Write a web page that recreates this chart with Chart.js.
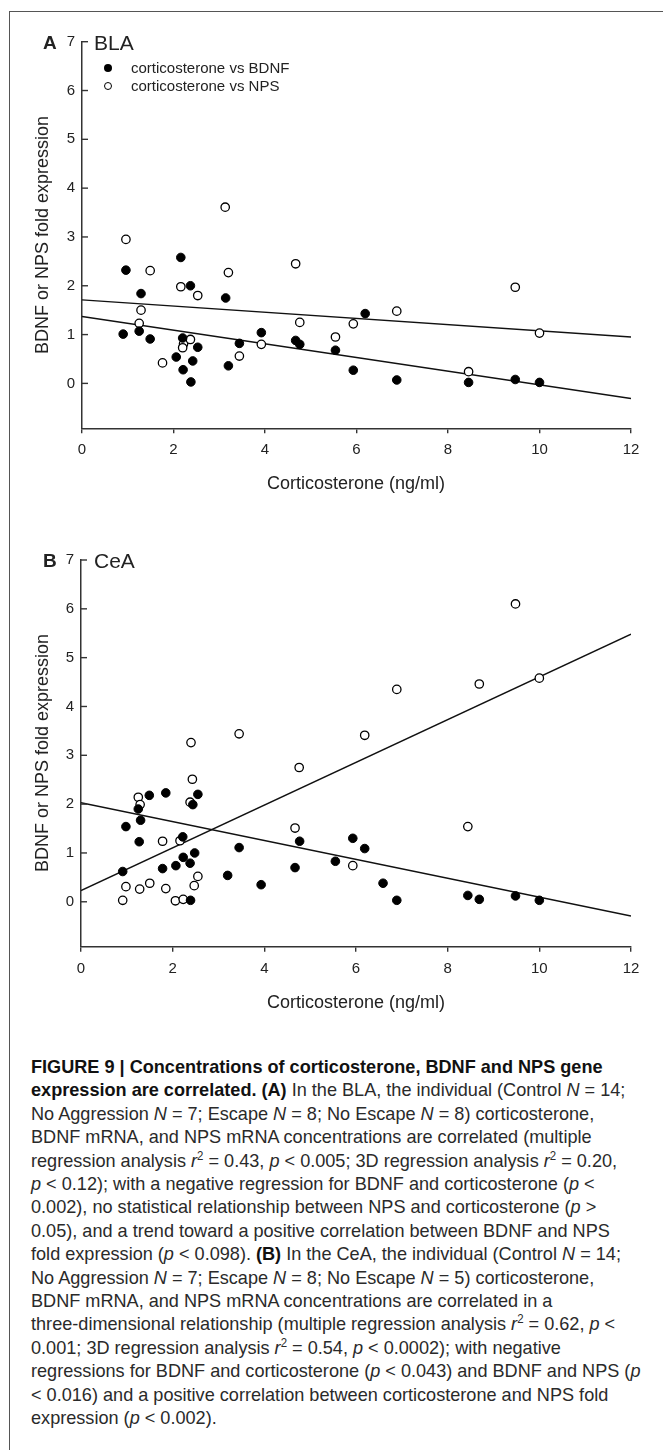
<!DOCTYPE html>
<html>
<head>
<meta charset="utf-8">
<script src="https://cdn.jsdelivr.net/npm/chart.js@4.4.1/dist/chart.umd.min.js"></script>
<style>
  html, body { margin: 0; padding: 0; background: #fff; }
  body { width: 663px; height: 1450px; position: relative; overflow: hidden; font-family: "Liberation Sans", Arial, sans-serif; color: #222; }
  .frame { position: absolute; left: 9px; top: 11px; width: 700px; height: 1500px; border-left: 1.5px solid #555; border-top: 1.5px solid #555; }
  canvas { position: absolute; left: 0; }
  .abs { position: absolute; white-space: nowrap; line-height: 1; }
  .panel { font-weight: bold; font-size: 19px; }
  .region { font-size: 21px; }
  .ytitle { font-size: 18px; transform: translate(-50%, -50%) rotate(-90deg); }
  .xtitle { font-size: 18px; transform: translate(-50%, -50%); }
  .legend { font-size: 15px; }
  .dot { display: inline-block; width: 8px; height: 8px; border-radius: 50%; box-sizing: border-box; margin-right: 19px; vertical-align: middle; position: relative; top: -1px; }
  .dot.fill { background: #000; }
  .dot.open { background: #fff; border: 1.3px solid #000; }
  .caption { position: absolute; left: 31px; top: 1055px; font-family: "Liberation Sans", Arial, sans-serif; font-size: 19px; line-height: 23.4px; color: #2a2a2a; white-space: nowrap; transform-origin: 0 0; }
  .caption b { font-weight: bold; color: #111; }
  .caption sup { font-size: 12px; line-height: 0; vertical-align: 7px; }
</style>
</head>
<body>
<div class="frame"></div>

<canvas id="chartA" width="663" height="520" style="top:0"></canvas>
<canvas id="chartB" width="663" height="520" style="top:520px"></canvas>

<div class="abs panel" style="left:43px; top:33px;">A</div>
<div class="abs region" style="left:94px; top:32px;">BLA</div>
<div class="abs legend" style="left:104px; top:60px;"><span class="dot fill"></span>corticosterone vs BDNF</div>
<div class="abs legend" style="left:104px; top:78px;"><span class="dot open"></span>corticosterone vs NPS</div>
<div class="abs ytitle" style="left:42px; top:235px;">BDNF or NPS fold expression</div>
<div class="abs xtitle" style="left:356px; top:483px;">Corticosterone (ng/ml)</div>

<div class="abs panel" style="left:43px; top:551px;">B</div>
<div class="abs region" style="left:94px; top:550px;">CeA</div>
<div class="abs ytitle" style="left:42px; top:753px;">BDNF or NPS fold expression</div>
<div class="abs xtitle" style="left:356px; top:1002px;">Corticosterone (ng/ml)</div>

<div class="caption" id="caption">
<b>FIGURE 9 | Concentrations of corticosterone, BDNF and NPS gene</b><br>
<b>expression are correlated. (A)</b> In the BLA, the individual (Control <i>N</i> = 14;<br>
No Aggression <i>N</i> = 7; Escape <i>N</i> = 8; No Escape <i>N</i> = 8) corticosterone,<br>
BDNF mRNA, and NPS mRNA concentrations are correlated (multiple<br>
regression analysis <i>r</i><sup>2</sup> = 0.43, <i>p</i> &lt; 0.005; 3D regression analysis <i>r</i><sup>2</sup> = 0.20,<br>
<i>p</i> &lt; 0.12); with a negative regression for BDNF and corticosterone (<i>p</i> &lt;<br>
0.002), no statistical relationship between NPS and corticosterone (<i>p</i> &gt;<br>
0.05), and a trend toward a positive correlation between BDNF and NPS<br>
fold expression (<i>p</i> &lt; 0.098). <b>(B)</b> In the CeA, the individual (Control <i>N</i> = 14;<br>
No Aggression <i>N</i> = 7; Escape <i>N</i> = 8; No Escape <i>N</i> = 5) corticosterone,<br>
BDNF mRNA, and NPS mRNA concentrations are correlated in a<br>
three-dimensional relationship (multiple regression analysis <i>r</i><sup>2</sup> = 0.62, <i>p</i> &lt;<br>
0.001; 3D regression analysis <i>r</i><sup>2</sup> = 0.54, <i>p</i> &lt; 0.0002); with negative<br>
regressions for BDNF and corticosterone (<i>p</i> &lt; 0.043) and BDNF and NPS (<i>p</i><br>
&lt; 0.016) and a positive correlation between corticosterone and NPS fold<br>
expression (<i>p</i> &lt; 0.002).
</div>

<script>
// ---- axis ticks ----
const xTicks = [0, 2, 4, 6, 8, 10, 12];
const yTicks = [0, 1, 2, 3, 4, 5, 6, 7];
const yMin = -0.92;

// ---- (A) BLA ----
const blaBdnfX = [0.96, 2.16, 2.37, 1.29, 3.14, 1.25, 0.90, 1.49, 2.20, 2.53, 2.06, 2.42, 2.21, 2.38, 3.20, 3.44, 3.92, 4.67, 4.76, 5.54, 5.93, 6.19, 6.88, 8.45, 9.47, 10.0];
const blaBdnfY = [2.32, 2.58, 2.00, 1.84, 1.75, 1.07, 1.01, 0.91, 0.93, 0.74, 0.54, 0.46, 0.28, 0.03, 0.36, 0.82, 1.04, 0.88, 0.80, 0.68, 0.27, 1.43, 0.07, 0.02, 0.08, 0.02];
const blaNpsX = [0.96, 1.49, 3.13, 3.20, 4.67, 9.47, 2.16, 2.53, 1.29, 1.25, 2.22, 2.20, 2.37, 1.76, 3.44, 3.92, 4.76, 5.54, 5.93, 6.88, 8.45, 10.0];
const blaNpsY = [2.95, 2.31, 3.61, 2.27, 2.45, 1.97, 1.98, 1.80, 1.50, 1.23, 0.81, 0.73, 0.90, 0.42, 0.56, 0.80, 1.25, 0.95, 1.22, 1.48, 0.24, 1.03];

// ---- (B) CeA ----
const ceaBdnfX = [1.49, 1.85, 2.55, 2.44, 1.25, 1.30, 0.98, 1.27, 2.22, 2.48, 2.23, 2.38, 2.07, 1.78, 0.91, 2.39, 3.20, 3.45, 3.93, 4.77, 4.67, 5.55, 5.93, 6.19, 6.59, 6.89, 8.44, 8.69, 9.48, 10.0];
const ceaBdnfY = [2.18, 2.23, 2.20, 1.99, 1.90, 1.67, 1.54, 1.23, 1.33, 1.00, 0.91, 0.79, 0.74, 0.68, 0.62, 0.03, 0.54, 1.11, 0.35, 1.24, 0.70, 0.83, 1.30, 1.09, 0.38, 0.03, 0.13, 0.05, 0.12, 0.03];
const ceaNpsX = [9.48, 10.0, 8.69, 6.89, 6.19, 3.45, 2.40, 4.76, 2.43, 1.25, 2.38, 1.29, 1.78, 2.16, 2.55, 2.47, 1.50, 0.98, 1.28, 1.85, 0.91, 2.06, 2.23, 4.67, 5.93, 8.44];
const ceaNpsY = [6.10, 4.58, 4.46, 4.35, 3.41, 3.44, 3.26, 2.75, 2.51, 2.14, 2.04, 1.99, 1.24, 1.25, 0.52, 0.33, 0.38, 0.31, 0.26, 0.27, 0.03, 0.02, 0.05, 1.51, 0.74, 1.54];

// regression lines, end points read at x = 0 and x = 12
const fitX = [0, 12];
const blaBdnfFitY = [1.37, -0.31];
const blaNpsFitY = [1.71, 0.95];
const ceaBdnfFitY = [2.03, -0.29];
const ceaNpsFitY = [0.23, 5.48];

const toPts = (xs, ys) => xs.map((x, i) => ({ x: x, y: ys[i] }));

// y ticks point into the plot in the original, so draw them ourselves
const inwardTicks = {
    id: 'inwardTicks',
    afterDraw(chart) {
        const ys = chart.scales.y;
        const ctx = chart.ctx;
        const left = chart.chartArea.left;
        ctx.save();
        ctx.strokeStyle = '#333';
        ctx.lineWidth = 1.4;
        yTicks.forEach(v => {
            const py = ys.getPixelForValue(v);
            ctx.beginPath();
            ctx.moveTo(left, py);
            ctx.lineTo(left + 6, py);
            ctx.stroke();
        });
        ctx.restore();
    }
};

function makeChart(id, bdnf, nps, bdnfFit, npsFit, pad, yWidth) {
    const lineDs = ys => ({
        type: 'line',
        data: toPts(fitX, ys),
        borderColor: '#111',
        borderWidth: 1.4,
        pointRadius: 0,
        fill: false,
        tension: 0,
        order: 3
    });
    return new Chart(document.getElementById(id), {
        type: 'scatter',
        data: {
            datasets: [
                lineDs(bdnfFit),
                lineDs(npsFit),
                {
                    label: 'corticosterone vs BDNF',
                    data: bdnf,
                    pointStyle: 'circle',
                    pointRadius: 4.3,
                    backgroundColor: '#000',
                    borderColor: '#000',
                    borderWidth: 1,
                    order: 1
                },
                {
                    label: 'corticosterone vs NPS',
                    data: nps,
                    pointStyle: 'circle',
                    pointRadius: 4.2,
                    backgroundColor: '#fff',
                    borderColor: '#000',
                    borderWidth: 1.3,
                    order: 2
                }
            ]
        },
        options: {
            responsive: false,
            animation: false,
            devicePixelRatio: 1,
            layout: { padding: pad },
            plugins: { legend: { display: false }, tooltip: { enabled: false } },
            scales: {
                x: {
                    type: 'linear',
                    min: 0,
                    max: 12,
                    afterBuildTicks: s => { s.ticks = xTicks.map(v => ({ value: v })); },
                    afterFit: s => { s.height = 40; },
                    border: { color: '#333', width: 1.5 },
                    grid: { drawOnChartArea: false, drawTicks: true, tickLength: 5, color: '#333', lineWidth: 1.4 },
                    ticks: { color: '#222', padding: 8, font: { family: 'Liberation Sans', size: 15 }, maxRotation: 0 }
                },
                y: {
                    type: 'linear',
                    min: yMin,
                    max: 7,
                    afterBuildTicks: s => { s.ticks = yTicks.map(v => ({ value: v })); },
                    afterFit: s => { s.width = yWidth; },
                    border: { color: '#333', width: 1.5 },
                    grid: { drawOnChartArea: false, drawTicks: false },
                    ticks: { color: '#222', padding: 7, font: { family: 'Liberation Sans', size: 15 } }
                }
            }
        },
        plugins: [inwardTicks]
    });
}

makeChart('chartA', toPts(blaBdnfX, blaBdnfY), toPts(blaNpsX, blaNpsY), blaBdnfFitY, blaNpsFitY,
    { left: 0, top: 41.7, right: 32, bottom: 51.7 }, 82);
makeChart('chartB', toPts(ceaBdnfX, ceaBdnfY), toPts(ceaNpsX, ceaNpsY), ceaBdnfFitY, ceaNpsFitY,
    { left: 0, top: 40, right: 32, bottom: 53.3 }, 81);

// squeeze the caption horizontally: the original uses a condensed face
const cap = document.getElementById('caption');
const capW = cap.scrollWidth;
cap.style.transform = 'scaleX(' + (609 / capW).toFixed(4) + ')';
</script>
</body>
</html>
